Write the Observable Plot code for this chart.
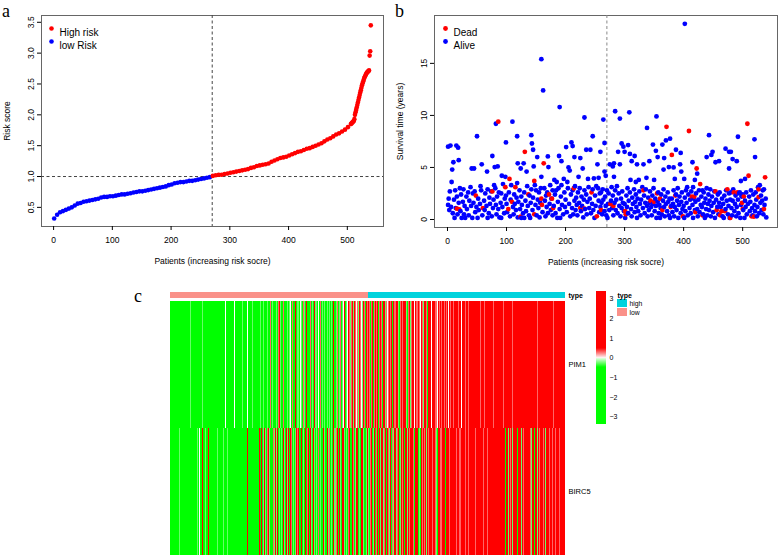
<!DOCTYPE html>
<html><head><meta charset="utf-8">
<script src="https://cdn.jsdelivr.net/npm/d3@7"></script>
<script src="https://cdn.jsdelivr.net/npm/@observablehq/plot@0.6"></script>
<style>
body{margin:0;background:#fff;}
#root{position:relative;width:780px;height:555px;overflow:hidden;font-family:"Liberation Sans",Arial,sans-serif;background:#fff;}
.panel{position:absolute;}
.letter{position:absolute;font-family:"Liberation Serif","Times New Roman",serif;font-size:18px;line-height:1;}
</style></head><body><div id="root"></div>
<script>
// ---------- DATA ----------
const cutoffPatient = 270;      // split between low and high risk
const cutoffScore = 1.0;        // median risk score
// Panel a: sorted risk scores, patients 1,6,11,...,506
const riskMain = [
 0.32,0.38,0.42,0.44,0.46,0.48,0.50,0.53,0.56,0.57,
 0.59,0.60,0.61,0.62,0.63,0.64,0.66,0.67,0.67,0.68,
 0.68,0.69,0.70,0.71,0.71,0.72,0.73,0.74,0.75,0.76,
 0.76,0.77,0.78,0.79,0.80,0.81,0.82,0.83,0.84,0.86,
 0.87,0.89,0.90,0.91,0.91,0.92,0.93,0.93,0.94,0.95,
 0.96,0.97,0.98,0.99,1.01,1.02,1.03,1.03,1.04,1.05,
 1.06,1.07,1.08,1.09,1.10,1.11,1.12,1.14,1.15,1.17,
 1.18,1.19,1.20,1.21,1.24,1.26,1.28,1.30,1.31,1.32,
 1.34,1.36,1.38,1.40,1.41,1.43,1.45,1.46,1.48,1.50,
 1.52,1.54,1.57,1.60,1.62,1.65,1.68,1.70,1.73,1.76,
 1.80,1.85];
// risk scores of patients 507..540
const riskTail = [1.86,1.87,1.88,1.89,1.90,1.93,2.00,2.04,2.08,2.12,
 2.16,2.20,2.24,2.28,2.32,2.36,2.40,2.44,2.48,2.51,
 2.54,2.57,2.60,2.62,2.64,2.66,2.68,2.69,2.70,2.71,
 2.72,2.96,3.03,3.45];
const riskTicksX = [0,100,200,300,400,500];
const riskTicksY = [0.5,1.0,1.5,2.0,2.5,3.0,3.5];
const riskLegend = ["High risk","low Risk"];

// Panel b: survival time (years) per patient, dead and alive
const deadPoints = [[16,1.04],[20,0.97],[48,2.3],[60,1.1],[76,2.7],[86,9.4],[98,3.1],[103,1.0],[105,3.9],[109,1.7],[115,3.1],[124,0.27],[131,6.5],[137,2.4],[147,3.7],[147,0.5],[159,2.0],[160,1.4],[163,5.4],[172,2.4],[177,2.0],[179,1.1],[214,3.0],[225,1.1],[232,1.04],[244,2.6],[253,0.3],[260,0.9],[276,1.5],[281,1.3],[301,0.8],[302,0.5],[332,2.8],[344,1.8],[350,1.7],[355,2.5],[360,2.0],[364,0.9],[371,8.9],[378,1.2],[380,6.2],[386,2.3],[399,0.3],[409,8.5],[414,2.2],[418,2.2],[420,0.7],[422,4.9],[428,3.4],[432,0.4],[454,2.7],[456,0.9],[462,0.4],[464,0.8],[470,0.8],[474,2.9],[479,0.15],[485,2.6],[491,2.6],[499,1.6],[500,1.0],[502,2.2],[508,9.2],[510,4.2],[515,0.3],[519,0.27],[527,2.9],[527,2.15],[536,1.0],[538,4.05]];
const aliveHigh = [[159,15.4],[162,12.4],[190,10.8],[232,9.8],[264,9.6],[82,9.2],[110,9.4],[50,8.0],[142,8.1],[118,8.0],[246,8.0],[1,7.0],[5,7.1],[15,7.1],[18,6.9],[99,7.4],[143,7.3],[145,6.7],[210,7.4],[212,7.05],[201,6.96],[266,7.35],[10,5.5],[19,5.7],[8,4.8],[76,6.1],[119,5.4],[129,5.4],[152,6.0],[146,5.1],[170,6.06],[171,5.04],[189,6.1],[193,5.6],[215,6.0],[225,5.9],[235,6.7],[242,6.7],[259,6.5],[254,5.3],[41,4.9],[45,4.9],[58,5.3],[67,4.6],[80,5.04],[85,5.1],[92,4.2],[98,4.1],[124,4.9],[134,4.6],[159,4.1],[181,3.8],[185,3.6],[197,3.9],[205,5.0],[207,4.7],[229,4.9],[222,4.1],[238,3.9],[248,3.95],[256,4.0],[266,4.6],[268,4.2],
 [402,18.8],[284,10.4],[308,10.3],[292,9.7],[354,9.9],[338,8.8],[443,8.1],[492,7.95],[520,7.7],[370,7.6],[377,7.76],[364,7.2],[295,7.3],[306,7.15],[298,7.0],[348,7.2],[387,6.7],[395,6.4],[353,6.6],[356,6.0],[367,5.9],[375,5.04],[383,5.0],[289,6.5],[300,6.5],[309,6.3],[317,6.1],[275,5.3],[282,5.4],[280,5.1],[292,5.3],[312,5.6],[321,5.3],[332,5.3],[342,5.6],[366,4.8],[394,5.3],[396,4.6],[401,3.9],[415,5.5],[423,4.4],[439,6.0],[449,6.5],[447,6.2],[454,5.5],[460,5.6],[471,6.8],[477,6.5],[480,6.5],[483,5.8],[490,5.6],[477,4.9],[497,3.7],[504,3.9],[521,6.0],[529,3.3],[536,2.9],[282,4.1],[310,3.8],[319,3.6],[324,3.8],[337,4.0],[350,3.8],[385,3.9],[406,3.1],[416,3.1],[419,3.8],[432,2.8],[495,2.6]];
const aliveLow = [[1,1.4],[2,2.0],[3,0.9],[4,2.7],[6,1.2],[7,3.6],[9,0.6],[11,1.9],[12,0.15],[13,2.8],[14,1.1],[16,2.2],[17,0.5],[19,1.6],
 [21,3.0],[22,0.8],[23,2.4],[24,0.15],[26,1.7],[27,2.9],[28,0.5],[29,1.3],[30,0.15],[32,2.2],[33,1.0],[35,2.6],[36,0.4],[37,1.8],[39,3.1],
 [40,1.3],[42,0.15],[43,2.5],[44,1.6],[46,2.7],[47,0.7],[49,1.2],[51,0.15],[52,2.0],[53,0.9],[55,1.5],[56,3.2],[57,2.8],[59,0.4],
 [62,1.8],[63,0.9],[64,2.5],[66,1.3],[68,2.9],[68,0.15],[70,0.6],[71,2.1],[72,1.5],[74,2.7],[75,0.3],[77,1.1],[78,1.9],[79,3.3],
 [81,3.0],[82,1.4],[83,0.5],[84,2.2],[86,1.0],[87,2.6],[88,0.2],[90,1.6],[91,2.5],[91,0.15],[93,1.2],[94,3.4],[96,0.6],[97,2.0],[99,2.3],
 [100,1.5],[101,0.7],[104,2.6],[106,0.3],[107,1.9],[108,3.3],[111,1.2],[112,0.5],[113,2.4],[114,1.5],[116,0.9],[117,2.1],[118,3.5],[119,0.2],
 [120,1.7],[122,2.8],[123,1.0],[125,2.2],[125,0.15],[126,1.4],[128,0.6],[130,0.15],[130,2.6],[132,1.8],[133,0.8],[135,3.2],[136,1.3],[138,0.4],[139,2.3],
 [140,0.15],[141,1.6],[142,2.9],[144,0.9],[145,2.1],[148,3.3],[149,1.4],[150,2.8],[151,0.4],[153,1.9],[154,1.1],[155,2.6],[156,0.2],[157,1.6],[158,3.0],
 [161,0.7],[164,3.0],[165,1.8],[166,0.3],[167,2.3],[168,1.2],[169,2.6],[170,0.6],[173,1.5],[174,3.3],[175,0.9],[176,2.0],[178,0.4],[178,2.8],
 [180,1.3],[182,2.4],[183,0.6],[184,2.8],[186,0.15],[187,1.7],[188,3.0],[190,1.0],[191,0.15],[192,2.2],[193,3.3],[194,1.4],[196,0.5],[198,2.6],[199,1.2],
 [200,1.9],[202,0.7],[203,3.6],[204,3.0],[206,1.5],[208,0.3],[209,2.4],[211,1.1],[212,2.8],[213,0.5],[215,1.8],[216,3.2],[217,0.9],[218,2.1],[219,1.4],
 [220,0.4],[221,2.6],[223,1.6],[224,3.0],[226,0.8],[227,2.2],[228,1.3],[230,0.2],[231,1.9],[232,2.8],[233,1.0],[235,2.4],[236,0.5],[237,1.7],[239,3.1],
 [240,1.1],[241,2.0],[243,0.6],[245,1.5],[246,2.9],[247,0.9],[249,0.15],[250,2.3],[251,1.3],[252,3.2],[255,3.0],[256,1.8],[257,0.7],[258,2.5],[259,1.2],
 [260,2.6],[261,1.6],[262,0.5],[263,2.9],[264,1.9],[266,0.8],[267,2.2],[268,1.3],[269,0.4],[270,2.8],[271,0.15],[272,1.5],[273,2.5],[274,0.9],[277,1.8],[278,3.1],[279,1.1],
 [280,2.3],[281,0.4],[283,1.6],[284,2.8],[285,0.9],[286,1.9],[287,3.2],[288,0.6],[290,2.5],[291,1.3],[293,0.3],[294,2.0],[295,1.1],[296,2.7],[297,1.6],[299,0.8],
 [300,1.5],[301,0.15],[303,2.3],[304,1.2],[305,3.0],[306,0.6],[307,1.8],[309,2.6],[311,1.0],[312,0.3],[313,2.1],[314,1.5],[316,2.9],[317,0.7],[318,1.7],[319,2.4],
 [320,1.2],[321,0.15],[322,2.0],[323,0.8],[325,2.7],[326,1.5],[327,0.4],[328,1.9],[330,3.1],[331,1.1],[333,2.3],[334,0.6],[335,1.6],[336,2.9],[338,1.3],[339,0.3],
 [340,2.1],[341,0.9],[342,1.6],[343,2.7],[345,1.2],[346,0.4],[347,2.3],[348,1.5],[349,3.0],[351,0.8],[352,2.0],[353,1.3],[354,0.15],[356,1.7],[357,2.6],[358,0.6],[359,1.4],
 [360,0.15],[361,1.1],[362,2.4],[363,0.5],[365,1.8],[366,2.9],[367,1.2],[368,0.3],[369,2.2],[370,1.5],[372,0.8],[373,2.6],[374,1.7],[375,0.4],[376,2.0],[377,0.15],[379,1.3],
 [380,2.0],[381,0.7],[382,1.5],[383,2.8],[384,0.3],[385,1.2],[387,2.4],[388,0.9],[389,1.8],[390,3.0],[391,0.15],[392,1.4],[393,2.2],[395,0.6],[396,1.7],[397,2.6],[398,1.0],
 [400,1.3],[401,0.15],[402,2.1],[403,0.8],[404,2.8],[405,1.6],[407,0.4],[408,2.4],[410,1.1],[411,1.9],[412,0.6],[413,2.7],[415,1.4],[416,0.15],[417,2.0],[419,0.9],
 [420,1.7],[421,2.5],[423,1.0],[424,0.3],[425,1.9],[426,2.8],[427,0.7],[429,1.4],[430,2.2],[431,1.2],[433,0.5],[434,2.6],[435,1.6],[436,0.15],[437,2.0],[438,1.0],[439,3.0],
 [440,0.4],[441,1.5],[442,2.4],[443,0.9],[444,1.8],[445,2.9],[446,0.3],[447,1.3],[448,2.2],[450,0.7],[451,1.6],[452,2.7],[453,0.15],[455,1.9],[457,1.2],[458,2.4],[459,0.5],
 [460,1.6],[461,2.6],[463,1.2],[465,2.0],[466,0.3],[467,1.5],[468,0.15],[469,2.3],[471,1.0],[472,2.8],[473,1.8],[475,0.5],[476,1.3],[477,2.5],[478,0.15],[479,1.9],
 [480,2.6],[481,1.1],[482,0.4],[483,1.8],[484,2.9],[486,0.8],[487,1.5],[488,2.3],[489,0.3],[490,1.2],[492,1.9],[493,0.6],[494,2.5],[496,0.15],[497,1.4],[498,2.2],
 [500,2.4],[501,0.9],[503,0.15],[504,1.8],[505,1.2],[506,2.6],[507,0.5],[509,1.5],[511,2.2],[512,0.8],[513,1.7],[514,2.8],[516,1.1],[517,0.4],[518,2.4],
 [520,1.4],[521,0.8],[522,2.6],[523,1.9],[524,0.3],[525,1.2],[526,3.1],[528,0.6],[530,1.6],[531,2.3],[532,0.9],[533,1.8],[534,2.8],[535,0.5],[537,1.4],[539,2.0],[540,0.2]];
const survTicksY = [0,5,10,15];
const survLegend = ["Dead","Alive"];

// Panel c: heatmap, one code per patient (sorted by risk); code -> z-score
const zLevels = [-3,-1.5,-0.7,-0.3,0,0.3,0.7,1.5,3];
const genes = ["PIM1","BIRC5"];
const pim1Codes = "0000000000 0000000000 0000000030 0000000200 0000300000 0000000300 0000000000 0030040000 3000000040 0000300003 0000040000 0030000300 0303000340 0033000503 3004030058 0300350030 3003400503 0800330043 3053008030 0350340830 3004058030 5300830430 3508040350 0385030480 5340853058 3085405308 5403853085 3853058405 8358305885 0858358453 8583085858 5830858548 8853085838 5885485858 8548853858 5808858485 8858548858 8588858588 4885888588 8858588848 8885888858 8588858888 8888588885 8888888588 8858888888 8888858888 8888888858 8888888888 8888888888 8888888888 8858888888 8888888888 8888588888 8888888888";
const birc5Codes = "0000000000 0030000000 0000300000 0000000300 4000800030 0080000300 0000300000 0003000030 0000000800 0300000000 0000080000 0008000800 0380380308 3005803008 0530838003 8030583008 3800835038 0380583008 8030880538 0583008308 3085038008 8300583850 3808303588 0853080830 8308580308 5803838083 0858308038 8308580838 0858308308 8385803858 3808538083 8580838508 0858308583 8858088580 8308858588 3885808858 8858308885 8588380858 8858858888 8588858588 8885888858 8588888588 8858888858 8888588888 8588888858 8838885808 8838858838 8588308858 3885880883 8858388508 8838858838 5883888858 8858888588 8858888888";
const typeLevels = ["high","low"];
const zTicks = [-3,-2,-1,0,1,2,3];

// ---------- BUILD TABLES ----------
const riskData = riskMain.map((v,k)=>({patient:1+5*k, score:v}))
  .concat(riskTail.map((v,k)=>({patient:507+k, score:v})))
  .map(d=>({...d, group: d.patient > cutoffPatient ? "High risk" : "low Risk"}));
const survData = deadPoints.map(([p,t])=>({patient:p, years:t, status:"Dead"}))
  .concat(aliveHigh.concat(aliveLow).map(([p,t])=>({patient:p, years:t, status:"Alive"})))
  .sort((a,b)=>a.patient-b.patient);
const parseCodes = s => s.replace(/\s+/g,"").split("").map(c=>zLevels[+c]);
const pim1 = parseCodes(pim1Codes), birc5 = parseCodes(birc5Codes);
const nPat = pim1.length;
const patients = d3.range(1, nPat+1);
const heat = [];
patients.forEach((p,i)=>{ heat.push({patient:p, gene:"PIM1", z:pim1[i]}); heat.push({patient:p, gene:"BIRC5", z:birc5[i]}); });
const typeData = patients.map(p=>({patient:p, type: p > cutoffPatient ? "high" : "low"}));

const root = document.getElementById("root");
function place(node, left, top){ node.classList.add("panel"); node.style.left=left+"px"; node.style.top=top+"px"; root.appendChild(node); }
function letter(t, left, top){ const d=document.createElement("div"); d.className="letter"; d.textContent=t; d.style.left=left+"px"; d.style.top=top+"px"; root.appendChild(d); }
const baseStyle = {fontFamily:"Liberation Sans, Arial, sans-serif", fontSize:"8.5px", color:"#000", background:"transparent", overflow:"visible"};
const RED="#FF0000", BLUE="#0000FF";
const minusFmt = d => d < 0 ? "\u2212" + (-d) : String(d);

// ---------- PANEL A ----------
const pa = Plot.plot({
  width:390, height:280, marginLeft:41, marginRight:7, marginTop:15, marginBottom:54,
  style: baseStyle,
  x:{domain:[-20.6,561.6]},
  y:{domain:[0.19,3.61]},
  color:{domain:riskLegend, range:[RED,BLUE]},
  marks:[
    Plot.frame({stroke:"#666"}),
    Plot.ruleX([cutoffPatient],{stroke:"#444", strokeDasharray:"3,2.5"}),
    Plot.ruleY([cutoffScore],{stroke:"#444", strokeDasharray:"3,2.5"}),
    Plot.dot(riskData,{x:"patient", y:"score", fill:"group", r:2.3}),
    Plot.axisX({ticks:riskTicksX, tickFormat:d=>String(d), tickSize:4, tickPadding:6, label:"Patients (increasing risk socre)", labelAnchor:"center", labelOffset:37, labelArrow:"none", fontSize:8.5}),
    Plot.axisY({ticks:riskTicksY, tickFormat:d3.format(".1f"), tickSize:4, tickPadding:4, tickRotate:-90, label:"Risk score", labelAnchor:"center", labelOffset:38, labelArrow:"none", fontSize:8.5}),
    Plot.dot([riskLegend[0]],{frameAnchor:"top-left", dx:10, dy:13, fill:d=>d, r:2.3}),
    Plot.dot([riskLegend[1]],{frameAnchor:"top-left", dx:10, dy:26, fill:d=>d, r:2.3}),
    Plot.text([riskLegend[0]],{frameAnchor:"top-left", dx:18, dy:13, text:d=>d, textAnchor:"start", fontSize:10}),
    Plot.text([riskLegend[1]],{frameAnchor:"top-left", dx:18, dy:26, text:d=>d, textAnchor:"start", fontSize:10})
  ]
});
place(pa, 0, 0);

// ---------- PANEL B ----------
const pb = Plot.plot({
  width:390, height:280, marginLeft:44, marginRight:3, marginTop:15, marginBottom:53,
  style: baseStyle,
  x:{domain:[-22,559]},
  y:{domain:[-0.77,19.6]},
  color:{domain:survLegend, range:[RED,BLUE]},
  marks:[
    Plot.frame({stroke:"#666"}),
    Plot.ruleX([cutoffPatient],{stroke:"#888", strokeDasharray:"3,2.5"}),
    Plot.dot(survData,{x:"patient", y:"years", fill:"status", r:2.4}),
    Plot.axisX({ticks:riskTicksX, tickFormat:d=>String(d), tickSize:4, tickPadding:6, label:"Patients (increasing risk socre)", labelAnchor:"center", labelOffset:37, labelArrow:"none", fontSize:8.5}),
    Plot.axisY({ticks:survTicksY, tickFormat:d=>String(d), tickSize:4, tickPadding:4, tickRotate:-90, label:"Survival time (years)", labelAnchor:"center", labelOffset:38, labelArrow:"none", fontSize:8.5}),
    Plot.dot([survLegend[0]],{frameAnchor:"top-left", dx:11, dy:13, fill:d=>d, r:2.4}),
    Plot.dot([survLegend[1]],{frameAnchor:"top-left", dx:11, dy:26, fill:d=>d, r:2.4}),
    Plot.text([survLegend[0]],{frameAnchor:"top-left", dx:19, dy:13, text:d=>d, textAnchor:"start", fontSize:10}),
    Plot.text([survLegend[1]],{frameAnchor:"top-left", dx:19, dy:26, text:d=>d, textAnchor:"start", fontSize:10})
  ]
});
place(pb, 390, 0);

// ---------- PANEL C ----------
const zColor = {type:"linear", domain:[-3,-0.5,0,0.5,3], range:["#00FF00","#00FF00","#FFFFFF","#FF0000","#FF0000"], clamp:true};
const typeColor = {domain:typeLevels, range:["#00D3DD","#FA9189"]};

const pType = Plot.plot({
  width:520, height:10, marginLeft:40, marginRight:85, marginTop:2, marginBottom:2,
  style: baseStyle,
  x:{type:"band", domain:patients, padding:0, round:false, axis:null},
  color: typeColor,
  marks:[
    Plot.cell(typeData,{x:"patient", fill:"type", shapeRendering:"crispEdges"}),
    Plot.text(["type"],{frameAnchor:"right", dx:3, text:d=>d, textAnchor:"start", fontWeight:"bold", fontSize:7})
  ]
});
place(pType, 130, 290);

const pHeat = Plot.plot({
  width:520, height:254, marginLeft:40, marginRight:85, marginTop:0, marginBottom:0,
  style: baseStyle,
  x:{type:"band", domain:patients, padding:0, round:false, axis:null},
  y:{type:"band", domain:genes, padding:0, round:false, axis:null},
  color: zColor,
  marks:[
    Plot.cell(heat,{x:"patient", y:"gene", fill:"z", shapeRendering:"crispEdges"}),
    Plot.text(genes,{y:d=>d, frameAnchor:"right", dx:3, text:d=>d, textAnchor:"start", fontSize:7.5})
  ]
});
place(pHeat, 130, 301);

const zBreaks = d3.range(-3.4, 3.4, 0.05);
const pBar = Plot.plot({
  width:40, height:152, marginLeft:6, marginRight:24, marginTop:5, marginBottom:14,
  style: baseStyle,
  x:{domain:[0,1], axis:null},
  y:{domain:[-3.38,3.38], axis:null},
  color: zColor,
  marks:[
    Plot.rect(zBreaks,{x1:0, x2:1, y1:d=>d, y2:d=>d+0.05, fill:d=>d+0.025, shapeRendering:"crispEdges"}),
    Plot.axisY({anchor:"right", ticks:zTicks, tickFormat:minusFmt, tickSize:0, tickPadding:3, fontSize:7, label:null})
  ]
});
place(pBar, 590, 286);

const pTypeLeg = Plot.plot({
  width:50, height:30, marginLeft:2, marginRight:38, marginTop:9, marginBottom:2,
  style: baseStyle,
  x:{axis:null},
  y:{type:"band", domain:typeLevels, padding:0.06, axis:null},
  color: typeColor,
  marks:[
    Plot.cell(typeLevels,{y:d=>d, fill:d=>d}),
    Plot.text(typeLevels,{y:d=>d, frameAnchor:"right", dx:2, text:d=>d, textAnchor:"start", fontSize:6.8}),
    Plot.text(["type"],{frameAnchor:"top-left", dy:-5, text:d=>d, textAnchor:"start", fontWeight:"bold", fontSize:7})
  ]
});
place(pTypeLeg, 615, 289);

letter("a", 2, 2);
letter("b", 395, 2);
letter("c", 134, 287);
</script></body></html>
